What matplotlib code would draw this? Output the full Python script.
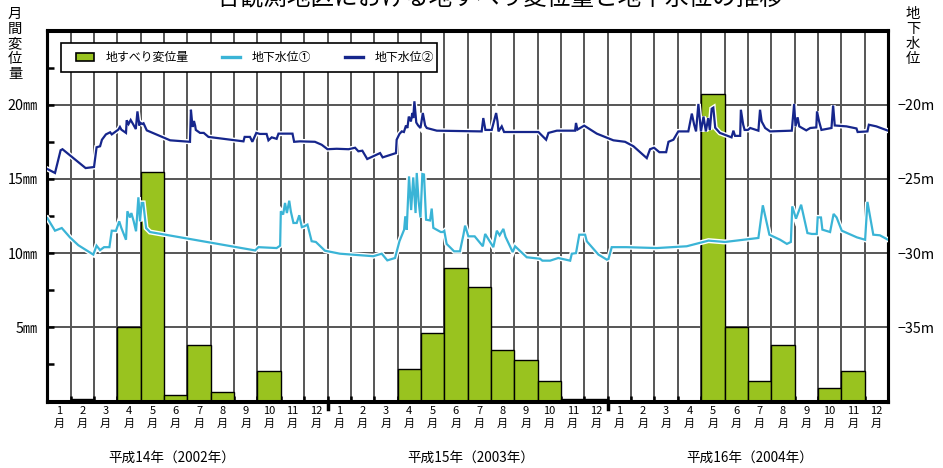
import matplotlib
matplotlib.use("Agg")
import matplotlib.pyplot as plt
import matplotlib.patheffects as pe
from matplotlib.lines import Line2D
from matplotlib.patches import Patch, Rectangle
import matplotlib.transforms as mtrans

plt.rcParams['font.family'] = ['Noto Sans CJK JP', 'DejaVu Sans']

# ---------------- data ----------------
months = list(range(36))  # Jan 2002 .. Dec 2004
month_labels = [f"{m}\n月" for m in range(1, 13)] * 3
year_labels = ["平成14年（2002年）", "平成15年（2003年）", "平成16年（2004年）"]

# monthly landslide displacement (mm)
disp = [0, 0.15, 0, 5.0, 15.45, 0.45, 3.8, 0.65, 0, 2.05, 0, 0,
        0, 0, 0, 2.2, 4.6, 9.0, 7.7, 3.5, 2.8, 1.4, 0.15, 0.15,
        0, 0, 0, 0, 20.75, 5.0, 1.4, 3.8, 0, 0.9, 2.05, 0]

# groundwater level 1 (m), x in months from Jan 2002
gw1_x = [0, 0.33, 0.62, 0.97, 1.33, 1.97, 2.11, 2.26, 2.43, 2.66, 2.76, 2.94, 3.08, 3.17,
         3.37, 3.43, 3.54, 3.6, 3.7, 3.8, 3.9, 3.97, 4.04, 4.11, 4.23, 4.4, 8.9, 9.04,
         9.82, 9.97, 10.0, 10.1, 10.18, 10.26, 10.36, 10.43, 10.54, 10.68, 10.79, 10.9,
         11.0, 11.14, 11.32, 11.5, 11.89, 12.53, 13.96, 14.32, 14.56, 14.89, 15.08, 15.28,
         15.33, 15.39, 15.49, 15.58, 15.67, 15.77, 15.82, 15.9, 15.98, 16.06, 16.13, 16.22,
         16.39, 16.46, 16.53, 16.85, 16.93, 17.0, 17.1, 17.42, 17.67, 17.82, 17.89, 18.03,
         18.3, 18.65, 18.75, 19.1, 19.25, 19.37, 19.53, 19.62, 19.93, 20.03, 20.53, 21.1,
         21.2, 21.53, 21.88, 22.39, 22.46, 22.64, 22.78, 23.03, 23.1, 23.6, 23.96, 24.03,
         24.17, 24.8, 26.1, 27.38, 28.31, 29.02, 30.45, 30.64, 30.92, 31.38, 31.67, 31.84,
         31.9, 32.06, 32.28, 32.55, 32.74, 32.95, 32.99, 33.13, 33.19, 33.52, 33.67, 33.8,
         34.02, 34.67, 35.02, 35.12, 35.37, 35.65, 36.0]
gw1_y = [-27.64, -28.49, -28.31, -28.94, -29.47, -30.1, -29.5, -29.8, -29.6, -29.6, -28.49,
         -28.5, -27.86, -28.3, -29.1, -27.18, -27.6, -27.3, -27.86, -28.53, -26.24, -27.86,
         -26.62, -26.62, -28.31, -28.58, -29.82, -29.6, -29.66, -29.5, -27.18, -27.4, -26.62,
         -27.3, -26.47, -27.2, -27.97, -27.97, -27.45, -28.25, -28.2, -28.08, -29.2, -29.25,
         -29.84, -30.04, -30.21, -30.04, -30.49, -30.33, -29.2, -28.42, -27.52, -28.42,
         -24.83, -27.1, -24.9, -27.3, -24.6, -26.5, -27.6, -24.67, -24.7, -27.75, -27.8,
         -27.0, -28.3, -28.58, -28.58, -28.5, -29.38, -29.88, -29.88, -28.76, -28.15,
         -28.87, -28.87, -29.54, -28.71, -29.6, -28.49, -28.8, -28.37, -28.9, -29.93,
         -29.54, -30.28, -30.38, -30.51, -30.51, -30.33, -30.51, -30.04, -30.0, -28.76,
         -28.76, -29.2, -30.1, -30.44, -30.4, -29.6, -29.6, -29.66, -29.54, -29.16, -29.25,
         -28.98, -26.78, -28.76, -29.1, -29.38, -29.25, -26.85, -27.68, -26.74, -28.65,
         -28.71, -28.71, -27.59, -27.6, -28.42, -28.58, -27.36, -27.6, -28.49, -28.94,
         -29.1, -26.55, -28.76, -28.8, -29.1]

# groundwater level 2 (m)
gw2_x = [0, 0.33, 0.57, 0.65, 1.64, 2.0, 2.11, 2.26, 2.34, 2.51, 2.69, 2.76, 3.04, 3.11,
         3.17, 3.37, 3.40, 3.48, 3.57, 3.67, 3.79, 3.86, 3.94, 3.97, 4.06, 4.12, 4.26,
         5.04, 5.26, 6.11, 6.15, 6.19, 6.22, 6.28, 6.33, 6.36, 6.54, 6.7, 6.9, 8.4, 8.45,
         8.68, 8.78, 8.95, 9.1, 9.39, 9.47, 9.61, 9.82, 9.9, 10.5, 10.57, 10.82, 11.46,
         11.75, 12.0, 12.39, 12.9, 13.18, 13.32, 13.49, 13.7, 14.1, 14.25, 14.36, 14.93,
         14.96, 15.08, 15.18, 15.27, 15.36, 15.42, 15.48, 15.57, 15.63, 15.67, 15.72,
         15.8, 15.88, 15.98, 16.08, 16.18, 16.25, 16.68, 18.6, 18.67, 18.76, 19.03, 19.22,
         19.28, 19.32, 19.46, 19.56, 21.03, 21.36, 21.46, 21.82, 22.6, 22.64, 22.7, 22.99,
         23.53, 24.24, 24.74, 25.1, 25.67, 25.81, 25.98, 26.21, 26.5, 26.6, 26.81, 27.02,
         27.45, 27.6, 27.7, 27.78, 27.88, 27.99, 28.1, 28.2, 28.3, 28.37, 28.45, 28.52,
         28.6, 28.8, 29.3, 29.38, 29.45, 29.67, 29.7, 29.8, 29.86, 30.0, 30.1, 30.45,
         30.52, 30.59, 30.74, 30.95, 31.88, 31.98, 32.04, 32.13, 32.2, 32.5, 32.67, 32.93,
         32.96, 33.05, 33.15, 33.58, 33.65, 33.72, 34.22, 34.65, 34.7, 35.12, 35.18, 35.5,
         36.0]
gw2_y = [-24.33, -24.6, -23.07, -23.0, -24.27, -24.2, -22.87, -22.8, -22.36, -22.0, -21.86,
         -22.0, -21.68, -21.5, -21.68, -21.9, -21.05, -21.3, -21.03, -21.3, -21.64, -20.45,
         -21.4, -21.2, -21.3, -21.25, -21.73, -22.25, -22.4, -22.5, -20.34, -21.0, -21.5,
         -21.1, -21.4, -21.7, -21.9, -21.9, -22.17, -22.47, -22.17, -22.17, -22.5, -21.9,
         -21.97, -21.97, -22.4, -22.2, -22.3, -21.95, -21.95, -22.5, -22.47, -22.5, -22.7,
         -23.0, -22.97, -23.0, -22.9, -23.14, -23.1, -23.66, -23.37, -23.26, -23.55, -23.26,
         -22.36, -21.97, -21.8, -21.84, -21.4, -21.57, -20.8, -21.13, -20.56, -20.9,
         -19.77, -21.2, -21.4, -21.57, -20.56, -21.4, -21.57, -21.75, -21.8, -20.9, -21.7,
         -21.7, -20.56, -21.13, -21.8, -21.46, -21.84, -21.84, -22.36, -21.9, -21.75,
         -21.75, -21.23, -21.68, -21.41, -21.95, -22.4, -22.5, -22.8, -23.6, -23.0, -22.9,
         -23.2, -23.2, -22.5, -22.36, -21.8, -21.8, -20.6, -21.35, -21.8, -19.95, -21.8,
         -20.8, -21.8, -20.9, -21.7, -20.27, -20.2, -21.55, -21.9, -22.2, -21.75, -22.1,
         -22.1, -20.34, -21.35, -21.7, -21.7, -21.57, -21.75, -20.34, -21.13, -21.57,
         -21.8, -21.75, -19.95, -21.46, -20.85, -21.46, -21.73, -21.57, -21.53, -20.45,
         -21.13, -21.7, -21.57, -20.05, -21.4, -21.46, -21.6, -21.84, -21.8, -21.35,
         -21.46, -21.75]

left_ticks = [5, 10, 15, 20]
right_ticks = [-35, -30, -25, -20]

# ---------------- colors ----------------
bar_color = "#99C31F"
gw1_color = "#3AB4D6"
gw2_color = "#16268C"
grid_color = "#555555"

W, H = 943, 468
fig = plt.figure(figsize=(W / 100, H / 100), dpi=100)
L, R, T, B = 47.3, 888.0, 30.5, 401.5
ax = fig.add_axes([L / W, 1 - B / H, (R - L) / W, (B - T) / H])

ax.set_xlim(0, 36)
ax.set_ylim(0, 25)

# grid
for m in range(1, 36):
    ax.axvline(m, color=grid_color, lw=1.4, zorder=1)
for v in [5, 10, 15, 20]:
    ax.axhline(v, color=grid_color, lw=1.4, zorder=1)

ax.bar(months, disp, width=1.0, align='edge', color=bar_color,
       edgecolor='black', linewidth=1.0, zorder=2)

# spines
for s in ax.spines.values():
    s.set_linewidth(2.2)
    s.set_color('black')
    s.set_zorder(5)

# left axis ticks
ax.set_yticks([0, 5, 10, 15, 20, 25])
ax.set_yticks([2.5, 7.5, 12.5, 17.5, 22.5], minor=True)
ax.set_yticklabels(["", "5㎜", "10㎜", "15㎜", "20㎜", ""], fontsize=10.3)
ax.tick_params(axis='y', which='both', direction='in', length=5, width=1.8, pad=7)

# x ticks: month boundaries (major), month labels at centres (minor)
ax.set_xticks(range(0, 37))
ax.set_xticklabels([])
ax.set_xticks([m + 0.5 for m in months], minor=True)
ax.set_xticklabels(month_labels, minor=True, fontsize=8.0, linespacing=1.25)
ax.tick_params(axis='x', which='major', direction='in', length=4, width=1.8)
ax.tick_params(axis='x', which='minor', length=0, pad=3.5)

# year-boundary ticks below the axis
tr = mtrans.blended_transform_factory(ax.transData, ax.transAxes)
for yb in [12, 24]:
    ax.plot([yb, yb], [0, -0.02], transform=tr, color='black', lw=2.5,
            clip_on=False, zorder=6)

# year labels
for xc, lab in zip([5.35, 18.15, 30.1], year_labels):
    ax.text(xc, -0.151, lab, transform=tr, ha='center', va='center', fontsize=9.8)

# right axis
ax2 = ax.twinx()
ax2.set_ylim(-40, -15)
ax2.set_yticks(right_ticks)
ax2.set_yticklabels([f"−{abs(v)}m" for v in right_ticks], fontsize=10.3)
ax2.tick_params(axis='y', length=0, pad=7)
for s in ax2.spines.values():
    s.set_linewidth(2.2)
    s.set_color('black')

halo = [pe.Stroke(linewidth=3.6, foreground='white'), pe.Normal()]
ax2.plot(gw1_x, gw1_y, color=gw1_color, lw=1.6, path_effects=halo, zorder=3,
         solid_joinstyle='miter')
ax2.plot(gw2_x, gw2_y, color=gw2_color, lw=1.6, path_effects=halo, zorder=4,
         solid_joinstyle='miter')

# legend frame (drawn separately) + legend content
def ax_frac(px, py):
    return ((px - L) / (R - L), 1 - (py - T) / (B - T))

fx0, fy0 = ax_frac(60.7, 72)
fx1, fy1 = ax_frac(437, 43)
frame = Rectangle((fx0, fy0), fx1 - fx0, fy1 - fy0, transform=ax2.transAxes,
                  facecolor='white', edgecolor='black', linewidth=1.2, zorder=9)
ax2.add_patch(frame)

handles = [Patch(facecolor=bar_color, edgecolor='black', linewidth=1.2),
           Line2D([], [], color=gw1_color, lw=2.4),
           Line2D([], [], color=gw2_color, lw=2.4)]
leg = ax2.legend(handles, ["地すべり変位量", "地下水位①", "地下水位②"], ncol=3,
                 loc='center left', bbox_to_anchor=ax_frac(76, 57.5),
                 frameon=False, fontsize=8.6,
                 handlelength=1.5, handleheight=0.6, columnspacing=2.85,
                 borderpad=0, handletextpad=0.95, borderaxespad=0)
leg.set_zorder(10)

# axis titles (vertical text)
fig.text(15 / W, 1 - 7 / H, "月\n間\n変\n位\n量", ha='center', va='top',
         fontsize=10.3, linespacing=1.08)
fig.text(913 / W, 1 - 7 / H, "地\n下\n水\n位", ha='center', va='top',
         fontsize=10.3, linespacing=1.08)

# title (cut off at top as in reference)
fig.text(500 / W, 1 - 4 / H, "各観測地区における地すべり変位量と地下水位の推移",
         ha='center', va='baseline', fontsize=17)

fig.savefig("out.png", dpi=100)
